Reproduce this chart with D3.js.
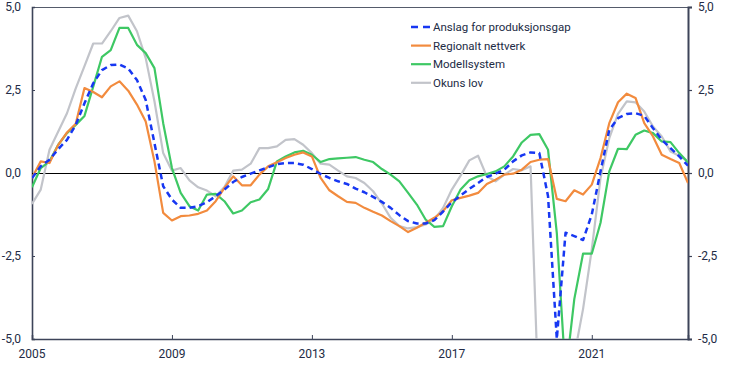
<!DOCTYPE html>
<html><head><meta charset="utf-8">
<script src="https://cdn.jsdelivr.net/npm/d3@7"></script>
<style>
html,body{margin:0;padding:0;background:#fff;}
svg{display:block;font-family:Roboto,Inter,"Open Sans",sans-serif;}
</style></head>
<body><svg id="c" width="750" height="366"></svg>
<script>
// Quarterly observations, 2005Q1 .. 2023Q4
const startYear = 2005;
const nQuarters = 76;
const quarters = d3.range(nQuarters).map(i => startYear + i / 4);

const seriesNames = ["Anslag for produksjonsgap", "Regionalt nettverk", "Modellsystem", "Okuns lov"];

const anslag = [-0.15,0.2,0.4,0.72,1.0,1.45,2.1,2.7,3.1,3.25,3.27,3.15,2.8,2.2,0.9,-0.4,
  -0.8,-1.05,-1.05,-1.0,-0.88,-0.7,-0.5,-0.27,-0.12,-0.02,0.08,0.17,0.27,0.3,0.3,0.25,
  0.12,-0.03,-0.15,-0.25,-0.33,-0.47,-0.58,-0.72,-0.87,-1.05,-1.27,-1.45,-1.52,-1.52,-1.42,-1.16,
  -0.88,-0.68,-0.48,-0.3,-0.12,-0.02,0.1,0.35,0.53,0.62,0.6,-0.7,-5.0,-1.8,-1.9,-2.02,
  -1.25,0.05,1.3,1.65,1.78,1.8,1.72,1.35,1.0,0.75,0.5,0.22];

const regionalt = [-0.15,0.35,0.3,0.85,1.22,1.48,2.56,2.44,2.28,2.61,2.76,2.48,2.06,1.55,0.35,-1.2,
  -1.43,-1.3,-1.28,-1.23,-1.13,-0.85,-0.45,-0.1,-0.37,-0.37,-0.05,0.2,0.32,0.45,0.55,0.62,
  0.5,-0.15,-0.52,-0.7,-0.87,-0.9,-1.05,-1.17,-1.28,-1.45,-1.6,-1.78,-1.65,-1.5,-1.35,-1.15,
  -0.82,-0.75,-0.68,-0.6,-0.33,-0.2,-0.05,-0.02,0.1,0.33,0.4,0.42,-0.78,-0.85,-0.52,-0.65,
  -0.35,0.45,1.5,2.13,2.39,2.26,1.5,1.1,0.55,0.42,0.3,-0.3];

const modell = [-0.43,0.15,0.35,0.85,1.2,1.45,1.72,2.6,3.5,3.7,4.37,4.37,3.86,3.61,3.16,1.5,
  0.15,-0.6,-1.0,-1.13,-0.65,-0.63,-0.85,-1.22,-1.13,-0.88,-0.8,-0.48,0.35,0.5,0.62,0.67,
  0.55,0.33,0.42,0.44,0.46,0.48,0.4,0.33,0.12,-0.05,-0.25,-0.6,-0.95,-1.4,-1.62,-1.6,
  -1.0,-0.5,-0.22,-0.1,-0.03,0.05,0.2,0.5,0.92,1.15,1.17,0.7,-1.8,-6.1,-3.8,-2.43,
  -2.43,-1.5,0.05,0.73,0.72,1.15,1.28,1.2,0.95,0.93,0.6,0.32];

const okun = [-0.93,-0.5,0.7,1.25,1.8,2.55,3.22,3.9,3.9,4.27,4.67,4.74,4.27,3.46,2.16,0.6,
  0.07,0.15,-0.22,-0.43,-0.53,-0.7,-0.42,0.07,0.1,0.28,0.75,0.75,0.8,1.0,1.02,0.85,
  0.6,0.28,0.25,0.07,-0.1,-0.15,-0.3,-0.55,-0.92,-1.35,-1.6,-1.67,-1.63,-1.55,-1.4,-1.05,
  -0.5,-0.08,0.38,0.52,-0.1,-0.25,-0.05,0.12,0.08,0.2,-7.5,-11,-14,-9,-5.5,-4.1,
  -2.3,-0.15,1.05,1.78,2.16,2.13,1.85,1.4,1.1,0.65,0.52,0.35];

const yTicks = [-5, -2.5, 0, 2.5, 5];
const xTicks = [2005, 2009, 2013, 2017, 2021];

const colors = ["#1737f2", "#f28b3e", "#3ec864", "#c2c4ca"];
const allSeries = [anslag, regionalt, modell, okun];

const svg = d3.select("#c");
const L = 32, R = 688, T = 7, B = 339;
const x = d3.scaleLinear().domain([2005, 2023.75]).range([L, R]);
const y = d3.scaleLinear().domain([-5, 5]).range([B, T]);
const textCol = "#222b45";
const axisCol = "#3d4459";
const fmt = d => d3.format(".1f")(d).replace(".", ",").replace("\u2212", "-");

svg.append("defs").append("clipPath").attr("id", "clip")
  .append("rect").attr("x", L).attr("y", T).attr("width", R - L).attr("height", B - T);

// top border
svg.append("line").attr("x1", L).attr("x2", R).attr("y1", T + 0.5).attr("y2", T + 0.5)
  .attr("stroke", "#555b6b").attr("stroke-width", 1);

// left axis
const gl = svg.append("g").attr("transform", `translate(${L},0)`)
  .call(d3.axisRight(y).tickValues(yTicks).tickSize(3).tickFormat(""));
gl.select(".domain").attr("stroke", axisCol).attr("stroke-width", 1.6);
gl.selectAll(".tick line").attr("stroke", axisCol);
svg.append("g").selectAll("text").data(yTicks).join("text")
  .attr("x", 21).attr("y", d => y(d)).attr("dy", "0.35em").attr("text-anchor", "end")
  .attr("font-size", 12).attr("fill", textCol).text(fmt);

// right axis
const gr = svg.append("g").attr("transform", `translate(${R},0)`)
  .call(d3.axisRight(y).tickValues(yTicks).tickSize(4).tickFormat(""));
gr.select(".domain").attr("stroke", axisCol).attr("stroke-width", 2);
gr.selectAll(".tick line").attr("stroke", axisCol).attr("stroke-width", 1.2);
svg.append("g").selectAll("text").data(yTicks).join("text")
  .attr("x", 698).attr("y", d => y(d)).attr("dy", "0.35em").attr("text-anchor", "start")
  .attr("font-size", 12).attr("fill", textCol).text(fmt);

// bottom axis
const gb = svg.append("g").attr("transform", `translate(0,${B})`)
  .call(d3.axisTop(x).tickValues(xTicks).tickSize(4).tickFormat(""));
gb.select(".domain").attr("stroke", axisCol).attr("stroke-width", 1.6);
gb.selectAll(".tick line").attr("stroke", axisCol);
svg.append("g").selectAll("text").data(xTicks).join("text")
  .attr("x", d => x(d)).attr("y", 354).attr("dy", "0.35em").attr("text-anchor", "middle")
  .attr("font-size", 12).attr("fill", textCol).text(d => d);

// zero line
svg.append("line").attr("x1", L).attr("x2", R).attr("y1", y(0) + 0.5).attr("y2", y(0) + 0.5)
  .attr("stroke", "#000").attr("stroke-width", 1.2).attr("shape-rendering", "crispEdges");

// lines
const line = d3.line().x((d, i) => x(quarters[i])).y(d => y(d));
const g = svg.append("g").attr("clip-path", "url(#clip)");
const drawOrder = [3, 2, 1, 0];
drawOrder.forEach(k => {
  g.append("path").datum(allSeries[k])
    .attr("d", line).attr("fill", "none")
    .attr("stroke", colors[k])
    .attr("stroke-width", k === 0 ? 2.5 : 2.2)
    .attr("stroke-linejoin", "round")
    .attr("stroke-dasharray", k === 0 ? "6,4" : null);
});

// legend
const lg = svg.append("g");
seriesNames.forEach((name, i) => {
  const yy = 27 + i * 18.6;
  lg.append("line").attr("x1", 411).attr("x2", 431).attr("y1", yy).attr("y2", yy)
    .attr("stroke", colors[i]).attr("stroke-width", i === 0 ? 2.5 : 2.2)
    .attr("stroke-dasharray", i === 0 ? "7,5" : null);
  lg.append("text").attr("x", 433).attr("y", yy).attr("dy", "0.35em")
    .attr("font-size", 11.5).attr("fill", textCol).text(name);
});
</script>
</body></html>
